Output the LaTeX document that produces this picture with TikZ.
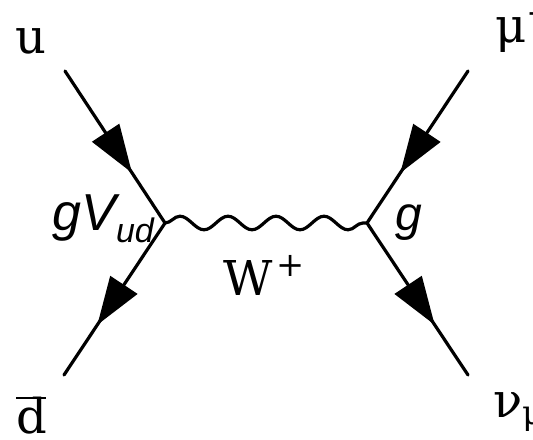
\documentclass[tikz,border=0pt]{standalone}
\usepackage{fontspec}
\setmainfont{DejaVu Serif}
\setsansfont{Liberation Sans}
\usepackage{tikz}
\usetikzlibrary{arrows.meta,decorations.markings,decorations.pathmorphing}
\newcommand{\dbar}{\makebox[0pt][l]{\rule[.70em]{.62em}{.055em}}d}
\tikzset{
  fermion/.style={line width=1.6pt,line cap=round,postaction={decorate},
    decoration={markings,mark=at position 0.67 with {\arrow{Triangle[length=24pt,width=16pt]}}}},
  boson/.style={line width=1.6pt,decorate,
    decoration={snake,segment length=24pt,amplitude=3.4pt}},
  lab/.style={inner sep=0pt,anchor=base west,font=\fontsize{24}{28}\selectfont},
  coup/.style={inner sep=0pt,anchor=base west,font=\sffamily\itshape\fontsize{24}{28}\selectfont}
}
\begin{document}
\begin{tikzpicture}[x=0.5pt,y=0.5pt,>=Triangle]
  \useasboundingbox (0,0) rectangle (533,439);
  % vertices and external ends
  \coordinate (lv) at (165,216);
  \coordinate (rv) at (367,216);
  \coordinate (qin) at (65,368);
  \coordinate (qout) at (64,64);
  \coordinate (lin) at (468,368);
  \coordinate (lout) at (468,64);
  % fermion lines
  \foreach \a/\b in {qin/lv,lv/qout,lin/rv,rv/lout}{\draw[fermion] (\a)--(\b);}
  % W propagator
  \draw[boson] (lv)--(rv);
  % labels
  \node[lab] (u) at (15,385) {u};
  \node[lab] (dbar) at (16,6) {\dbar};
  \node[lab] (mu) at (495,396) {μ\textsuperscript{+}};
  \node[lab] (nu) at (493,22) {ν\textsubscript{μ}};
  \node[lab] (wlab) at (223,144) {W\kern.08em\textsuperscript{+}};
  \node[coup,font=\sffamily\itshape\fontsize{26}{30}\selectfont] (gvud) at (52,209)
       {gV\raisebox{-.24em}{\fontsize{17}{20}\selectfont ud}};
  \node[coup] (g) at (395,209) {g};
\end{tikzpicture}
\end{document}
